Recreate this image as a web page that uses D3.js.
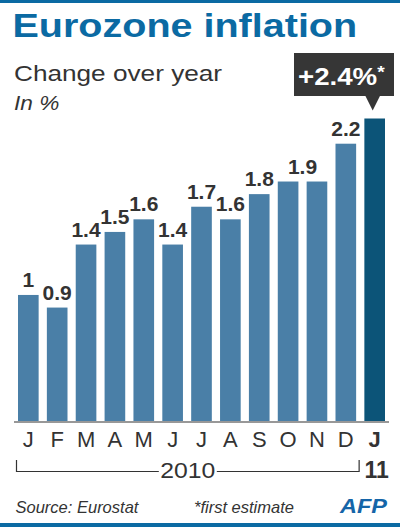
<!DOCTYPE html>
<html><head><meta charset="utf-8">
<script src="https://cdn.jsdelivr.net/npm/d3@7"></script>
<style>html,body{margin:0;padding:0;background:#fff;}svg{display:block;}</style>
</head><body>
<script>
// Data
const months = ["J","F","M","A","M","J","J","A","S","O","N","D","J"];
const values = [1.0,0.9,1.4,1.5,1.6,1.4,1.7,1.6,1.8,1.9,1.9,2.2,2.4];
const calloutLabel = "+2.4%";
const yearLabels = ["2010","11"];

const W = 400, H = 527;
const blue = "#0b6aa3", barCol = "#4a7fa7", lastCol = "#0c5478", ink = "#333333";
const font = "'Liberation Sans', Arial, Helvetica, sans-serif";

const svg = d3.select("body").append("svg").attr("width", W).attr("height", H)
  .style("font-family", font);

function stext(x, y, str, size, opts = {}) {
  return svg.append("text")
    .attr("transform", `translate(${x},${y}) scale(${opts.sx || 1},1)`)
    .attr("font-size", size)
    .attr("fill", opts.fill || ink)
    .attr("font-weight", opts.weight || "normal")
    .attr("font-style", opts.style || "normal")
    .attr("text-anchor", opts.anchor || "start")
    .text(str);
}

// top & bottom bands
svg.append("rect").attr("x", 0).attr("y", 0).attr("width", W).attr("height", 3).attr("fill", blue);
svg.append("rect").attr("x", 0).attr("y", 523).attr("width", W).attr("height", 4).attr("fill", blue);

// Titles
stext(12.5, 36.7, "Eurozone inflation", 33.5, {weight: "bold", fill: blue, sx: 1.18});
stext(14, 81, "Change over year", 22, {sx: 1.19});
stext(14, 110, "In %", 21, {style: "italic", sx: 1.08});

// Scales
const x = d3.scaleBand().domain(d3.range(months.length)).range([18, 385]).paddingInner(0.285).paddingOuter(0);
const y = d3.scaleLinear().domain([0, 2.4]).range([421, 118.5]);
const cxOf = i => x(i) + x.bandwidth() / 2;

// Bars
svg.append("g").selectAll("rect").data(values).join("rect")
  .attr("x", (d, i) => x(i))
  .attr("y", d => y(d))
  .attr("width", x.bandwidth())
  .attr("height", d => y(0) - y(d))
  .attr("fill", (d, i) => i === values.length - 1 ? lastCol : barCol);

// Value labels: consecutive equal values share one label centred over the run
const last = values.length - 1;
const groups = [];
values.slice(0, last).forEach((v, i) => {
  const g = groups[groups.length - 1];
  if (g && g.v === v && g.end === i - 1) g.end = i;
  else groups.push({v, start: i, end: i});
});
svg.append("g").selectAll("text").data(groups).join("text")
  .attr("x", g => (cxOf(g.start) + cxOf(g.end)) / 2)
  .attr("y", g => y(g.v) - 8)
  .attr("text-anchor", "middle")
  .attr("font-size", 21)
  .attr("font-weight", "bold")
  .attr("fill", ink)
  .text(g => d3.format("~g")(g.v));

// Baseline
svg.append("line").attr("x1", 14).attr("x2", 389).attr("y1", 422).attr("y2", 422)
  .attr("stroke", ink).attr("stroke-width", 1.2);

// Month labels
svg.append("g").selectAll("text").data(months).join("text")
  .attr("x", (d, i) => cxOf(i))
  .attr("y", 447.3)
  .attr("text-anchor", "middle")
  .attr("font-size", 22)
  .attr("font-weight", (d, i) => i === months.length - 1 ? "bold" : "normal")
  .attr("fill", ink)
  .text(d => d);

// Year bracket
const bx0 = x(0) - 1.5, bx1 = x(11) + x.bandwidth() + 3;
const midX = (bx0 + bx1) / 2;
svg.append("path")
  .attr("d", `M${bx0},460 V471.5 H${midX - 29} M${midX + 29},471.5 H${bx1} V460`)
  .attr("fill", "none").attr("stroke", ink).attr("stroke-width", 1.2);
stext(midX, 477.5, yearLabels[0], 22.5, {anchor: "middle", sx: 1.1});
stext(cxOf(12) + 2, 477.5, yearLabels[1], 23, {anchor: "middle", weight: "bold"});

// Callout
const cx = cxOf(last) - 2;
svg.append("rect").attr("x", 294).attr("y", 53).attr("width", 100).attr("height", 43).attr("fill", "#363636");
svg.append("path").attr("d", `M${cx - 7.5},95.5 L${cx + 7.5},95.5 L${cx},110.5 Z`).attr("fill", "#363636");
const ct = stext(298, 85, calloutLabel, 24.5, {weight: "bold", fill: "#fff", sx: 1.13});
ct.append("tspan").attr("font-size", 17).attr("dy", -7).text("*");

// Footer
stext(15.5, 512.5, "Source: Eurostat", 16.5, {style: "italic"});
stext(194, 512.5, "*first estimate", 16.5, {style: "italic"});
stext(340, 512.5, "AFP", 21, {weight: "bold", style: "italic", fill: "#1565a8", sx: 1.12});
</script>
</body></html>
